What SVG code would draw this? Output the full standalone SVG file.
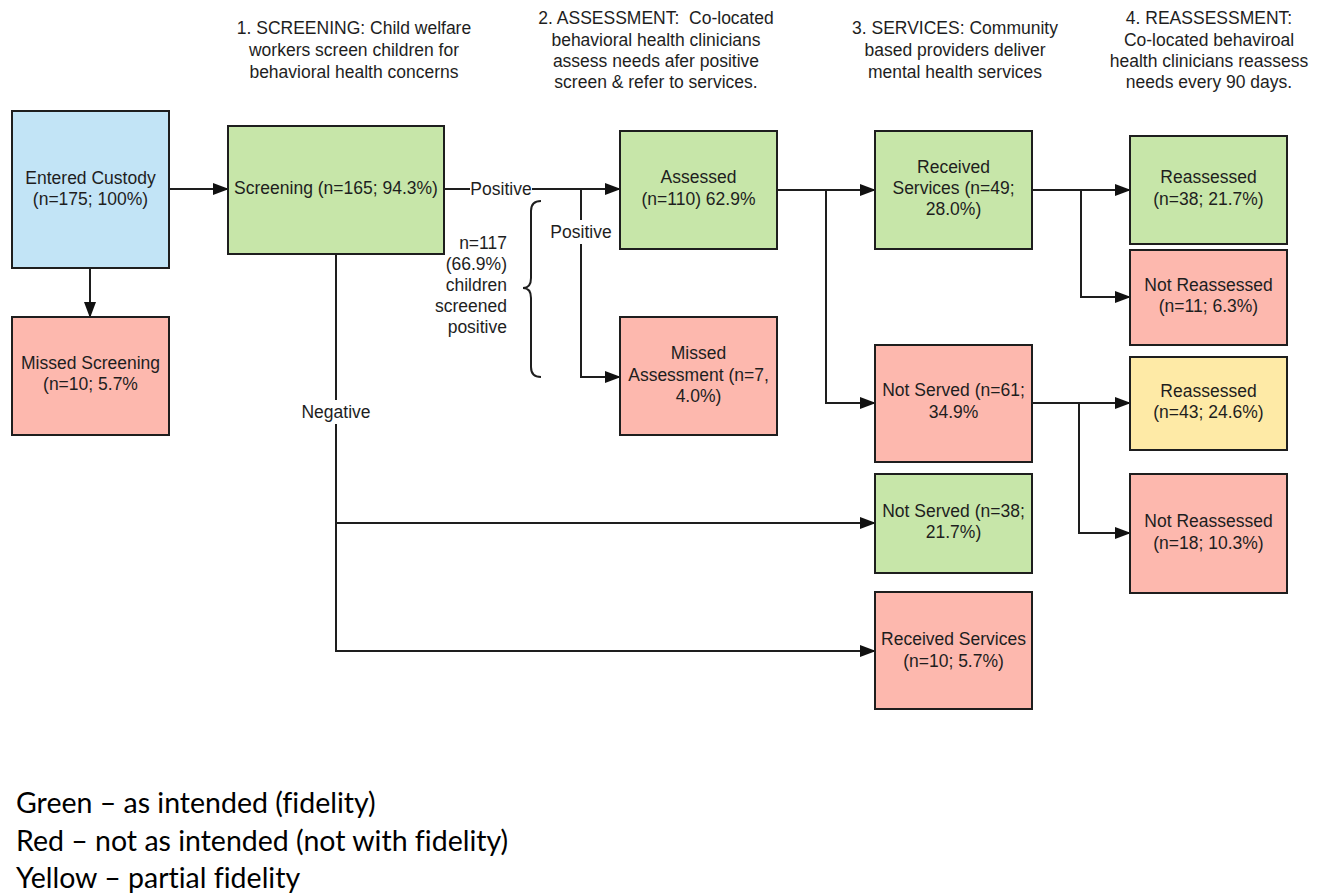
<svg xmlns="http://www.w3.org/2000/svg" width="1320" height="893" viewBox="0 0 1320 893">
<style>
.n rect{stroke:#1e1e1e;stroke-width:2}
.g{fill:#c7e6a9}.r{fill:#fdb8ae}.b{fill:#c2e4f6}.y{fill:#feeaa6}
text{font-family:"Liberation Sans",Arial,sans-serif;fill:#1e1e1e}
.t{font-size:17.5px;text-anchor:middle}
.h{font-size:17.5px;text-anchor:middle}
.lb{font-size:17.5px;text-anchor:middle}
.lg{font-size:28.5px;font-family:Lato,"Liberation Sans",sans-serif;fill:#000;font-variant-ligatures:none;font-feature-settings:"liga" 0}
.c path{fill:none;stroke:#1e1e1e;stroke-width:2}
</style>
<defs>
<marker id="a" markerUnits="userSpaceOnUse" markerWidth="16" markerHeight="12" refX="15" refY="6" orient="auto">
<path d="M0,0 L16,6 L0,12 Z" fill="#111"/>
</marker>
</defs>
<rect width="1320" height="893" fill="#fff"/>
<g id="headers">
<text class="h"><tspan x="354" y="34">1. SCREENING: Child welfare</tspan><tspan x="354" y="56">workers screen children for</tspan><tspan x="354" y="78">behavioral health concerns</tspan></text>
<text class="h"><tspan x="656" y="24">2. ASSESSMENT:&#160; Co-located</tspan><tspan x="656" y="46">behavioral health clinicians</tspan><tspan x="656" y="67">assess needs afer positive</tspan><tspan x="656" y="88">screen &amp; refer to services.</tspan></text>
<text class="h"><tspan x="955" y="34">3. SERVICES: Community</tspan><tspan x="955" y="56">based providers deliver</tspan><tspan x="955" y="78">mental health services</tspan></text>
<text class="h"><tspan x="1209" y="24">4. REASSESSMENT:</tspan><tspan x="1209" y="46">Co-located behaviroal</tspan><tspan x="1209" y="67">health clinicians reassess</tspan><tspan x="1209" y="88">needs every 90 days.</tspan></text>
</g>
<g class="c" id="connectors">
<path d="M169,189 H228" marker-end="url(#a)"/>
<path d="M90,268 V317" marker-end="url(#a)"/>
<path d="M444,189 H620" marker-end="url(#a)"/>
<path d="M581,189 V377 H620" marker-end="url(#a)"/>
<path d="M777,190 H875" marker-end="url(#a)"/>
<path d="M826,190 V403 H875" marker-end="url(#a)"/>
<path d="M336,254 V651 H875" marker-end="url(#a)"/>
<path d="M336,523 H875" marker-end="url(#a)"/>
<path d="M1032,190 H1130" marker-end="url(#a)"/>
<path d="M1081,190 V297 H1130" marker-end="url(#a)"/>
<path d="M1032,403 H1130" marker-end="url(#a)"/>
<path d="M1079,403 V533 H1130" marker-end="url(#a)"/>
<path d="M541,201 Q531,201 531,211 V278 Q531,288 523,288 Q531,288 531,298 V367 Q531,377 541,377"/>
<rect x="470" y="179" width="62" height="20" fill="#fff" stroke="none"/>
<text class="lb" x="501" y="195">Positive</text>
<rect x="548" y="220" width="66" height="24" fill="#fff" stroke="none"/>
<text class="lb" x="581" y="238">Positive</text>
<rect x="298" y="400" width="76" height="24" fill="#fff" stroke="none"/>
<text class="lb" x="336" y="418">Negative</text>
<text class="lb" style="text-anchor:end"><tspan x="507" y="249">n=117</tspan><tspan x="507" y="270">(66.9%)</tspan><tspan x="507" y="291">children</tspan><tspan x="507" y="312">screened</tspan><tspan x="507" y="333">positive</tspan></text>
</g>
<g class="n" id="entered"><rect class="b" x="12" y="111" width="157" height="157"/><text class="t"><tspan x="90.5" y="184">Entered Custody</tspan><tspan x="90.5" y="205">(n=175; 100%)</tspan></text></g>
<g class="n" id="missedScreening"><rect class="r" x="12" y="317" width="157" height="118"/><text class="t"><tspan x="90.5" y="369">Missed Screening</tspan><tspan x="90.5" y="390">(n=10; 5.7%</tspan></text></g>
<g class="n" id="screening"><rect class="g" x="228" y="126" width="216" height="128"/><text class="t" x="336" y="194">Screening (n=165; 94.3%)</text></g>
<g class="n" id="assessed"><rect class="g" x="620" y="131" width="157" height="118"/><text class="t"><tspan x="698.5" y="183">Assessed</tspan><tspan x="698.5" y="205">(n=110) 62.9%</tspan></text></g>
<g class="n" id="missedAssessment"><rect class="r" x="620" y="317" width="157" height="118"/><text class="t"><tspan x="698.5" y="359">Missed</tspan><tspan x="698.5" y="381">Assessment (n=7,</tspan><tspan x="698.5" y="402">4.0%)</tspan></text></g>
<g class="n" id="receivedServices49"><rect class="g" x="875" y="131" width="157" height="118"/><text class="t"><tspan x="953.5" y="173">Received</tspan><tspan x="953.5" y="194">Services (n=49;</tspan><tspan x="953.5" y="215">28.0%)</tspan></text></g>
<g class="n" id="notServed61"><rect class="r" x="875" y="345" width="157" height="117"/><text class="t"><tspan x="953.5" y="396">Not Served (n=61;</tspan><tspan x="953.5" y="418">34.9%</tspan></text></g>
<g class="n" id="notServed38"><rect class="g" x="875" y="474" width="157" height="99"/><text class="t"><tspan x="953.5" y="517">Not Served (n=38;</tspan><tspan x="953.5" y="538">21.7%)</tspan></text></g>
<g class="n" id="receivedServices10"><rect class="r" x="875" y="592" width="157" height="117"/><text class="t"><tspan x="953.5" y="645">Received Services</tspan><tspan x="953.5" y="667">(n=10; 5.7%)</tspan></text></g>
<g class="n" id="reassessed38"><rect class="g" x="1130" y="136" width="157" height="108"/><text class="t"><tspan x="1208.5" y="183">Reassessed</tspan><tspan x="1208.5" y="205">(n=38; 21.7%)</tspan></text></g>
<g class="n" id="notReassessed11"><rect class="r" x="1130" y="250" width="157" height="95"/><text class="t"><tspan x="1208.5" y="291">Not Reassessed</tspan><tspan x="1208.5" y="312">(n=11; 6.3%)</tspan></text></g>
<g class="n" id="reassessed43"><rect class="y" x="1130" y="357" width="157" height="93"/><text class="t"><tspan x="1208.5" y="397">Reassessed</tspan><tspan x="1208.5" y="418">(n=43; 24.6%)</tspan></text></g>
<g class="n" id="notReassessed18"><rect class="r" x="1130" y="474" width="157" height="119"/><text class="t"><tspan x="1208.5" y="527">Not Reassessed</tspan><tspan x="1208.5" y="549">(n=18; 10.3%)</tspan></text></g>
<g id="legend">
<text class="lg" x="16" y="813">Green – as intended (fidelity)</text>
<text class="lg" x="16" y="851">Red – not as intended (not with fidelity)</text>
<text class="lg" x="16" y="888">Yellow – partial fidelity</text>
</g>
</svg>
